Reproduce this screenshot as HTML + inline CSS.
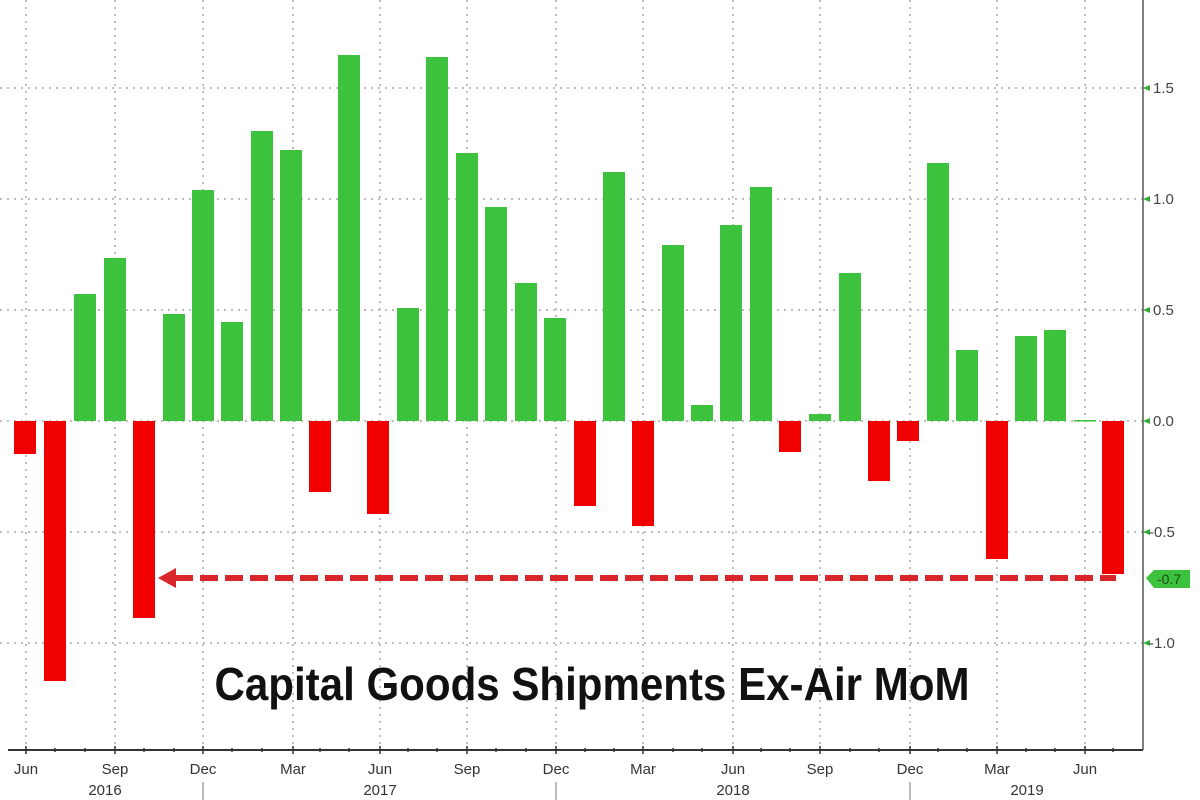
<!DOCTYPE html>
<html><head><meta charset="utf-8"><style>
html,body{margin:0;padding:0;background:#fff;}
svg{display:block;font-family:"Liberation Sans",sans-serif;}
</style></head><body>
<svg width="1200" height="800" viewBox="0 0 1200 800" xmlns="http://www.w3.org/2000/svg">
<rect width="1200" height="800" fill="#fff"/>
<g stroke="#aaa" stroke-width="1.5" stroke-dasharray="2,5">
<line x1="0" y1="88" x2="1143" y2="88"/>
<line x1="0" y1="199" x2="1143" y2="199"/>
<line x1="0" y1="310" x2="1143" y2="310"/>
<line x1="0" y1="421" x2="1143" y2="421"/>
<line x1="0" y1="532" x2="1143" y2="532"/>
<line x1="0" y1="643" x2="1143" y2="643"/>
<line x1="26" y1="0" x2="26" y2="750"/><line x1="115" y1="0" x2="115" y2="750"/>
<line x1="203" y1="0" x2="203" y2="750"/><line x1="293" y1="0" x2="293" y2="750"/>
<line x1="380" y1="0" x2="380" y2="750"/><line x1="467" y1="0" x2="467" y2="750"/>
<line x1="556" y1="0" x2="556" y2="750"/><line x1="643" y1="0" x2="643" y2="750"/>
<line x1="733" y1="0" x2="733" y2="750"/><line x1="820" y1="0" x2="820" y2="750"/>
<line x1="910" y1="0" x2="910" y2="750"/><line x1="997" y1="0" x2="997" y2="750"/>
<line x1="1085" y1="0" x2="1085" y2="750"/>
</g>
<g fill="#3cc23c">
<rect x="74" y="294" width="22" height="127"/>
<rect x="104" y="258" width="22" height="163"/>
<rect x="163" y="314" width="22" height="107"/>
<rect x="192" y="190" width="22" height="231"/>
<rect x="221" y="322" width="22" height="99"/>
<rect x="251" y="131" width="22" height="290"/>
<rect x="280" y="150" width="22" height="271"/>
<rect x="338" y="55" width="22" height="366"/>
<rect x="397" y="308" width="22" height="113"/>
<rect x="426" y="57" width="22" height="364"/>
<rect x="456" y="153" width="22" height="268"/>
<rect x="485" y="207" width="22" height="214"/>
<rect x="515" y="283" width="22" height="138"/>
<rect x="544" y="318" width="22" height="103"/>
<rect x="603" y="172" width="22" height="249"/>
<rect x="662" y="245" width="22" height="176"/>
<rect x="691" y="405" width="22" height="16"/>
<rect x="720" y="225" width="22" height="196"/>
<rect x="750" y="187" width="22" height="234"/>
<rect x="809" y="414" width="22" height="7"/>
<rect x="839" y="273" width="22" height="148"/>
<rect x="927" y="163" width="22" height="258"/>
<rect x="956" y="350" width="22" height="71"/>
<rect x="1015" y="336" width="22" height="85"/>
<rect x="1044" y="330" width="22" height="91"/>
<rect x="1074" y="420" width="22" height="1.5"/>
</g>
<g fill="#f00000">
<rect x="14" y="421" width="22" height="33"/>
<rect x="44" y="421" width="22" height="260"/>
<rect x="133" y="421" width="22" height="197"/>
<rect x="309" y="421" width="22" height="71"/>
<rect x="367" y="421" width="22" height="93"/>
<rect x="574" y="421" width="22" height="85"/>
<rect x="632" y="421" width="22" height="105"/>
<rect x="779" y="421" width="22" height="31"/>
<rect x="868" y="421" width="22" height="60"/>
<rect x="897" y="421" width="22" height="20"/>
<rect x="986" y="421" width="22" height="138"/>
<rect x="1102" y="421" width="22" height="153"/>
</g>
<line x1="175" y1="578" x2="1116" y2="578" stroke="#d8262a" stroke-width="6" stroke-dasharray="18,7"/>
<polygon points="158,578 176,568 176,588" fill="#d8262a"/>
<text x="592" y="700" font-size="46" font-weight="bold" text-anchor="middle" textLength="755" lengthAdjust="spacingAndGlyphs" fill="#111">Capital Goods Shipments Ex-Air MoM</text>
<line x1="1143" y1="0" x2="1143" y2="750" stroke="#555" stroke-width="1.5"/>
<g fill="#3a3" ><polygon points="1143,88 1150,85 1150,91"/><polygon points="1143,199 1150,196 1150,202"/><polygon points="1143,310 1150,307 1150,313"/><polygon points="1143,421 1150,418 1150,424"/><polygon points="1143,532 1150,529 1150,535"/><polygon points="1143,643 1150,640 1150,646"/></g>
<g font-size="15" fill="#444">
<text x="1153" y="93">1.5</text><text x="1153" y="204">1.0</text><text x="1153" y="315">0.5</text>
<text x="1153" y="426">0.0</text><text x="1149" y="537">-0.5</text><text x="1149" y="648">-1.0</text>
</g>
<polygon points="1146,578 1154,570 1190,570 1190,588 1154,588" fill="#3cc23c"/>
<text x="1157" y="584" font-size="14" fill="#1a4d1a">-0.7</text>
<line x1="8" y1="750" x2="1143" y2="750" stroke="#333" stroke-width="2"/>
<g stroke="#333" stroke-width="1.5">
<line x1="26" y1="746" x2="26" y2="754"/><line x1="55" y1="748" x2="55" y2="752"/><line x1="85" y1="748" x2="85" y2="752"/>
<line x1="115" y1="746" x2="115" y2="754"/><line x1="144" y1="748" x2="144" y2="752"/><line x1="174" y1="748" x2="174" y2="752"/>
<line x1="203" y1="746" x2="203" y2="754"/><line x1="232" y1="748" x2="232" y2="752"/><line x1="262" y1="748" x2="262" y2="752"/>
<line x1="293" y1="746" x2="293" y2="754"/><line x1="320" y1="748" x2="320" y2="752"/><line x1="349" y1="748" x2="349" y2="752"/>
<line x1="380" y1="746" x2="380" y2="754"/><line x1="408" y1="748" x2="408" y2="752"/><line x1="437" y1="748" x2="437" y2="752"/>
<line x1="467" y1="746" x2="467" y2="754"/><line x1="496" y1="748" x2="496" y2="752"/><line x1="526" y1="748" x2="526" y2="752"/>
<line x1="556" y1="746" x2="556" y2="754"/><line x1="585" y1="748" x2="585" y2="752"/><line x1="614" y1="748" x2="614" y2="752"/>
<line x1="643" y1="746" x2="643" y2="754"/><line x1="673" y1="748" x2="673" y2="752"/><line x1="702" y1="748" x2="702" y2="752"/>
<line x1="733" y1="746" x2="733" y2="754"/><line x1="761" y1="748" x2="761" y2="752"/><line x1="790" y1="748" x2="790" y2="752"/>
<line x1="820" y1="746" x2="820" y2="754"/><line x1="850" y1="748" x2="850" y2="752"/><line x1="879" y1="748" x2="879" y2="752"/>
<line x1="910" y1="746" x2="910" y2="754"/><line x1="938" y1="748" x2="938" y2="752"/><line x1="967" y1="748" x2="967" y2="752"/>
<line x1="997" y1="746" x2="997" y2="754"/><line x1="1026" y1="748" x2="1026" y2="752"/><line x1="1055" y1="748" x2="1055" y2="752"/>
<line x1="1085" y1="746" x2="1085" y2="754"/><line x1="1113" y1="748" x2="1113" y2="752"/>
</g>
<g stroke="#777" stroke-width="1"><line x1="203" y1="782" x2="203" y2="800"/><line x1="556" y1="782" x2="556" y2="800"/><line x1="910" y1="782" x2="910" y2="800"/></g>
<g font-size="15" fill="#333" text-anchor="middle">
<text x="26" y="774">Jun</text><text x="115" y="774">Sep</text><text x="203" y="774">Dec</text><text x="293" y="774">Mar</text>
<text x="380" y="774">Jun</text><text x="467" y="774">Sep</text><text x="556" y="774">Dec</text><text x="643" y="774">Mar</text>
<text x="733" y="774">Jun</text><text x="820" y="774">Sep</text><text x="910" y="774">Dec</text><text x="997" y="774">Mar</text>
<text x="1085" y="774">Jun</text>
<text x="105" y="795">2016</text><text x="380" y="795">2017</text><text x="733" y="795">2018</text><text x="1027" y="795">2019</text>
</g>
</svg>
</body></html>
